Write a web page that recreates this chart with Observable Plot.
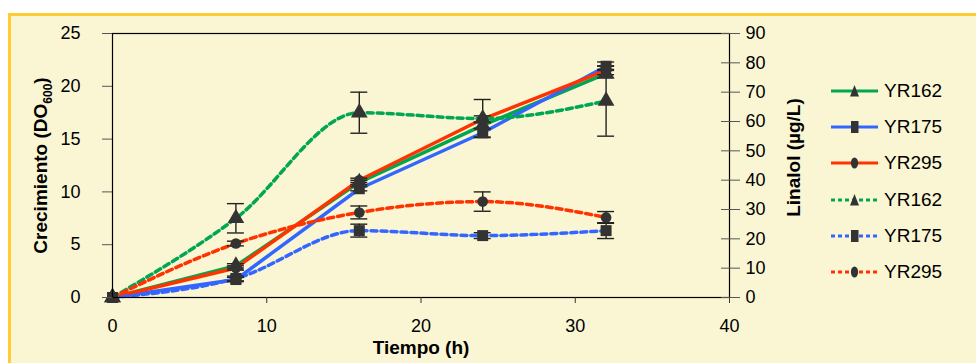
<!DOCTYPE html>
<html><head><meta charset="utf-8">
<script src="https://cdn.jsdelivr.net/npm/d3@7"></script>
<script src="https://cdn.jsdelivr.net/npm/@observablehq/plot@0.6"></script>
<style>
body{margin:0;width:976px;height:363px;overflow:hidden;position:relative;background:#fff;font-family:"Liberation Sans",Arial,sans-serif;}
#bg{position:absolute;left:8px;top:13px;width:1000px;height:400px;border:3px solid #FFCC33;background:#FAF6D3;}
#chart{position:absolute;left:0;top:0;}
#legend{position:absolute;left:831px;top:73px;}
.row{height:36.2px;display:flex;align-items:center;}
.row svg{display:block;margin-right:5px;}
.row span{font-size:19px;color:#000;}
</style></head>
<body>
<div id="bg"></div>
<div id="chart"></div>
<div id="legend"></div>
<script>
const hours = [0, 8, 16, 24, 32];
const strains = ["YR162", "YR175", "YR295"];
const colors = ["#00A651", "#3366FF", "#FF3300"];
const symbols = ["triangle", "square", "circle"];
// Crecimiento (DO600), left axis
const growth162 = [0, 3.0, 10.9, 16.3, 21.2];
const growth175 = [0, 1.7, 10.3, 15.6, 21.9];
const growth295 = [0, 2.8, 11.1, 16.9, 21.5];
const growthErr162 = [0, 0.2, 0.2, 0.3, 0.4];
const growthErr175 = [0, 0.2, 0.2, 0.4, 0.4];
const growthErr295 = [0, 0.2, 0.2, 0.3, 0.4];
// Linalol (µg/L), right axis
const lin162 = [0, 27, 63, 61, 67];
const lin175 = [0, 6.5, 22.8, 21.1, 22.8];
const lin295 = [0, 18.4, 29, 32.7, 27.3];
const linErr162 = [0, 5, 7, 6.5, 12];
const linErr175 = [0, 0.8, 2.2, 1, 2.7];
const linErr295 = [0, 0.8, 2.2, 3.3, 2];
const xTicks = [0, 10, 20, 30, 40];
const yTicks = [0, 5, 10, 15, 20, 25];
const linTicks = [0, 10, 20, 30, 40, 50, 60, 70, 80, 90];

const growth = [growth162, growth175, growth295];
const growthErr = [growthErr162, growthErr175, growthErr295];
const lin = [lin162, lin175, lin295];
const linErr = [linErr162, linErr175, linErr295];
const ys = 25 / 90;

const series = [];
strains.forEach((s, i) => {
  series.push({strain: s, i, dashed: false,
    rows: hours.map((h, j) => ({hour: h, v: growth[i][j], e: growthErr[i][j]}))});
});
strains.forEach((s, i) => {
  series.push({strain: s, i, dashed: true,
    rows: hours.map((h, j) => ({hour: h, v: lin[i][j] * ys, e: linErr[i][j] * ys}))});
});

const marks = [];
for (const s of series) {
  marks.push(Plot.line(s.rows, {x: "hour", y: "v", stroke: colors[s.i], strokeWidth: 3.5,
    strokeDasharray: s.dashed ? "6,4" : null, curve: s.dashed ? "monotone-x" : "linear"}));
}
for (const s of series) {
  const err = s.rows.filter(d => d.e > 0);
  marks.push(Plot.ruleX(err, {x: "hour", y1: d => d.v - d.e, y2: d => d.v + d.e, stroke: "#222", strokeWidth: 1.4}));
  marks.push(Plot.ruleY(err, {y: d => d.v + d.e, x1: d => d.hour - 0.55, x2: d => d.hour + 0.55, stroke: "#222", strokeWidth: 1.4}));
  marks.push(Plot.ruleY(err, {y: d => d.v - d.e, x1: d => d.hour - 0.55, x2: d => d.hour + 0.55, stroke: "#222", strokeWidth: 1.4}));
}
for (const s of series) {
  marks.push(Plot.dot(s.rows, {x: "hour", y: "v", symbol: symbols[s.i], fill: "#333", stroke: "none",
    r: s.i === 2 ? 5.3 : 6.2}));
}

const chart = Plot.plot({
  width: 976, height: 363,
  marginLeft: 112, marginRight: 247, marginTop: 33, marginBottom: 66,
  style: {background: "transparent", fontFamily: "'Liberation Sans', Arial, sans-serif", fontSize: "18px", color: "#000"},
  x: {domain: [0, 40]},
  y: {domain: [0, 25]},
  marks: [
    ...marks,
    Plot.frame({stroke: "#000", strokeWidth: 1.2}),
    Plot.axisX({ticks: xTicks, tickSize: 6, tickPadding: 16, label: null, fontSize: 18, stroke: "#333"}),
    Plot.axisY({ticks: yTicks, tickSize: 10, tickPadding: 22, label: null, fontSize: 18, stroke: "#555"}),
    Plot.axisY({anchor: "right", ticks: linTicks.map(v => v * ys), tickFormat: d => String(Math.round(d / ys)),
      tickSize: 10, tickPadding: 6, label: null, fontSize: 18, stroke: "#555"}),
    Plot.axisY({anchor: "right", ticks: linTicks.map(v => v * ys), tickFormat: () => "",
      tickSize: -9, label: null, stroke: "#555"}),
    Plot.text(["Tiempo (h)"], {frameAnchor: "bottom", dy: 56, textAnchor: "middle", fontWeight: "bold", fontSize: 19}),
    Plot.text(["Crecimiento (DO600)"], {frameAnchor: "left", dx: -72, textAnchor: "middle", rotate: -90, fontWeight: "bold", fontSize: 19}),
    Plot.text(["Linalol (µg/L)"], {frameAnchor: "right", dx: 64, dy: -8, textAnchor: "middle", rotate: -90, fontWeight: "bold", fontSize: 19})
  ]
});
document.getElementById("chart").appendChild(chart);

// subscript in the left axis title
d3.select(chart).selectAll("text").each(function() {
  if (this.textContent === "Crecimiento (DO600)") {
    const t = d3.select(this);
    t.text(null);
    t.append("tspan").text("Crecimiento (DO");
    t.append("tspan").attr("font-size", 12).attr("dy", 5).text("600");
    t.append("tspan").attr("dy", -5).text(")");
  }
});

// legend
const legend = d3.select("#legend");
series.forEach(s => {
  const row = legend.append("div").attr("class", "row");
  const svg = row.append("svg").attr("width", 48).attr("height", 20);
  svg.append("line").attr("x1", 0).attr("x2", 47).attr("y1", 10).attr("y2", 10)
    .attr("stroke", colors[s.i]).attr("stroke-width", 3.2)
    .attr("stroke-dasharray", s.dashed ? "4,3" : null);
  const g = svg.append("g").attr("fill", "#333");
  if (s.i === 0) g.append("path").attr("d", "M23.5,4L28,15.5L19,15.5Z");
  else if (s.i === 1) g.append("rect").attr("x", 20).attr("y", 4).attr("width", 7.5).attr("height", 12);
  else g.append("ellipse").attr("cx", 23.5).attr("cy", 10).attr("rx", 3.6).attr("ry", 5.5);
  row.append("span").text(s.strain);
});
</script>
</body></html>
